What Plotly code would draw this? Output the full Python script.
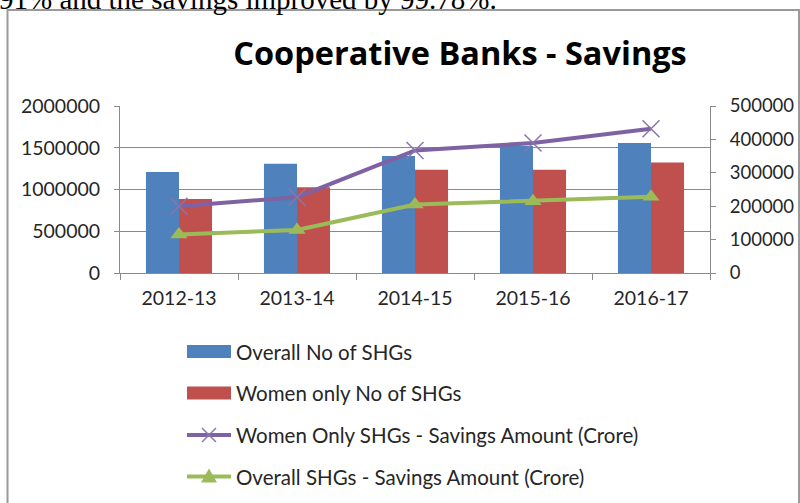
import plotly.graph_objects as go

# Cooperative Banks – SHG counts and savings, 2012-13 to 2016-17
years = ["2012-13", "2013-14", "2014-15", "2015-16", "2016-17"]
overall_shgs = [1210000, 1307000, 1400000, 1520000, 1558000]
women_shgs = [886000, 1028000, 1238000, 1238000, 1324000]
women_savings = [200000, 227000, 367000, 389000, 432000]
overall_savings = [115000, 129000, 205000, 215000, 228000]

series_names = [
    "Overall No of SHGs",
    "Women only No of SHGs",
    "Women Only SHGs - Savings Amount (Crore)",
    "Overall SHGs - Savings Amount (Crore)",
]

BLUE, RED, PURPLE, GREEN = "#4F81BD", "#C0504D", "#7F62A3", "#9BBB59"
TEXT = "#262626"
GRID = "#8a8a8a"

W, H = 800, 503
L, R, T, B = 120, 90, 106, 230
PW, PH = W - L - R, H - T - B


def px(x):
    """pixel x -> paper x"""
    return (x - L) / PW


def py(y):
    """pixel y -> paper y"""
    return (H - B - y) / PH


fig = go.Figure()
fig.add_trace(go.Bar(x=years, y=overall_shgs, name=series_names[0],
                     marker=dict(color=BLUE, line=dict(width=0))))
fig.add_trace(go.Bar(x=years, y=women_shgs, name=series_names[1],
                     marker=dict(color=RED, line=dict(width=0))))
fig.add_trace(go.Scatter(x=years, y=women_savings, name=series_names[2], yaxis="y2",
                         mode="lines+markers",
                         line=dict(color=PURPLE, width=4),
                         marker=dict(symbol="x-thin", size=17,
                                     line=dict(color="#8a76a8", width=1.5))))
fig.add_trace(go.Scatter(x=years, y=overall_savings, name=series_names[3], yaxis="y2",
                         mode="lines+markers",
                         line=dict(color=GREEN, width=4),
                         marker=dict(symbol="triangle-up", size=15, color=GREEN)))

shapes = []
annotations = []

# outer chart frame
shapes.append(dict(type="rect", xref="paper", yref="paper",
                   x0=px(7.5), x1=px(799), y0=py(10), y1=py(530),
                   line=dict(color="#9a9a9a", width=2), layer="below"))

# legend keys and labels
row_y = [351.5, 393, 435, 476.5]
kx0, kx1, kxm = 187, 231, 209
shapes.append(dict(type="rect", xref="paper", yref="paper",
                   x0=px(kx0), x1=px(kx1), y0=py(row_y[0] - 6.5), y1=py(row_y[0] + 6.5),
                   fillcolor=BLUE, line=dict(width=0)))
shapes.append(dict(type="rect", xref="paper", yref="paper",
                   x0=px(kx0), x1=px(kx1), y0=py(row_y[1] - 6.5), y1=py(row_y[1] + 6.5),
                   fillcolor=RED, line=dict(width=0)))
for ry, col in ((row_y[2], PURPLE), (row_y[3], GREEN)):
    shapes.append(dict(type="line", xref="paper", yref="paper",
                       x0=px(kx0), x1=px(kx1), y0=py(ry), y1=py(ry),
                       line=dict(color=col, width=4)))
# legend marker glyphs
xs = 7
shapes.append(dict(type="line", xref="paper", yref="paper",
                   x0=px(kxm - xs), x1=px(kxm + xs), y0=py(row_y[2] - xs), y1=py(row_y[2] + xs),
                   line=dict(color="#8a76a8", width=1.5)))
shapes.append(dict(type="line", xref="paper", yref="paper",
                   x0=px(kxm - xs), x1=px(kxm + xs), y0=py(row_y[2] + xs), y1=py(row_y[2] - xs),
                   line=dict(color="#8a76a8", width=1.5)))
ty = row_y[3]
shapes.append(dict(type="path", xref="paper", yref="paper",
                   path=f"M {px(kxm - 8)} {py(ty + 6)} L {px(kxm + 8)} {py(ty + 6)} L {px(kxm)} {py(ty - 8)} Z",
                   fillcolor=GREEN, line=dict(width=0)))

for name, ry in zip(series_names, row_y):
    annotations.append(dict(xref="paper", yref="paper", x=px(234), y=py(ry),
                            xanchor="left", yanchor="middle", showarrow=False,
                            text=name, font=dict(family="Lato", size=20.5, color=TEXT)))

# running text from the page above the chart
annotations.append(dict(xref="paper", yref="paper", x=px(-3), y=py(-1.5),
                        xanchor="left", yanchor="middle", showarrow=False,
                        text="91% and the savings improved by 99.78%.",
                        font=dict(family="Liberation Serif", size=29, color="black")))

fig.update_layout(
    width=W, height=H,
    margin=dict(l=L, r=R, t=T, b=B, pad=0, autoexpand=False),
    paper_bgcolor="white", plot_bgcolor="white",
    showlegend=False,
    barmode="group", bargap=0.44, bargroupgap=0,
    font=dict(family="Lato", size=19.5, color=TEXT),
    title=dict(text="<b>Cooperative Banks - Savings</b>",
               xref="container", yref="container",
               x=460 / W, y=1 - 54 / H, xanchor="center", yanchor="middle",
               font=dict(family="Open Sans", size=32.5, color="black")),
    xaxis=dict(type="category", showline=True, linecolor=GRID, linewidth=1,
               ticks="outside", tickson="boundaries", ticklen=6, tickcolor=GRID,
               showgrid=False, ticklabelstandoff=8, automargin=False),
    yaxis=dict(range=[0, 2000000], dtick=500000, tickformat="d",
               showgrid=True, gridcolor=GRID, gridwidth=1,
               showline=True, linecolor=GRID, linewidth=1,
               ticks="outside", ticklen=5, tickcolor=GRID,
               ticklabelstandoff=10, zeroline=False, automargin=False),
    yaxis2=dict(range=[0, 500000], dtick=100000, tickformat="d",
                overlaying="y", side="right", showgrid=False,
                showline=True, linecolor=GRID, linewidth=1,
                ticks="outside", ticklen=5, tickcolor=GRID,
                ticklabelstandoff=10, zeroline=False, automargin=False,
                tickfont=dict(size=18.5)),
    shapes=shapes,
    annotations=annotations,
)

fig.write_html("out.html")
